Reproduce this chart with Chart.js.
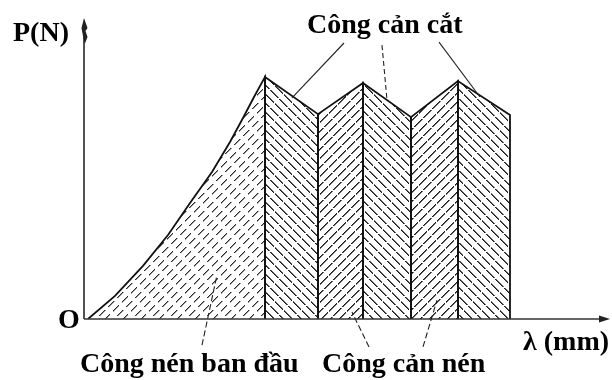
<!DOCTYPE html>
<html><head><meta charset="utf-8">
<script src="https://cdn.jsdelivr.net/npm/chart.js@4"></script>
<style>html,body{margin:0;padding:0;background:#fff}canvas{display:block}</style>
</head><body>
<canvas id="c" width="612" height="380"></canvas>
<script>
// Initial compression: load climbs from the origin to the first peak
const rampX = [0.8, 6.2, 11.8, 16.8, 21.2, 25.6, 29.2, 31.8, 34, 36.2];
const rampY = [0, 7.7, 17.7, 28, 38.7, 49, 59, 67, 74, 80.7];
// Cutting resistance: alternating peaks and troughs after the first peak
const ridgeX = [36.2, 46.8, 55.8, 65.4, 74.8, 85.2];
const ridgeY = [80.7, 68.3, 78.7, 67.3, 79.3, 68];

const canvas = document.getElementById('c');
const ctx = canvas.getContext('2d');

// Diagonal hatch tile: dir > 0 gives "/" strokes, dir < 0 gives "\" strokes
function hatch(dir, dashOn, shade, soft) {
  const s = 18;
  const cv = document.createElement('canvas');
  cv.width = cv.height = s;
  const g = cv.getContext('2d');
  const img = g.createImageData(s, s);
  for (let y = 0; y < s; y++) {
    for (let x = 0; x < s; x++) {
      const across = dir > 0 ? (x + y) : (x - y + 72);
      const along = dir > 0 ? (x - y + 72) : (x + y);
      const a = across % 9, d = along % 18;
      let alpha = 0;
      if (d < dashOn) { if (a === 0) alpha = 255; else if (a === 1) alpha = soft; }
      const k = (y * s + x) * 4;
      img.data[k] = shade; img.data[k + 1] = shade; img.data[k + 2] = shade; img.data[k + 3] = alpha;
    }
  }
  g.putImageData(img, 0, 0);
  return ctx.createPattern(cv, 'repeat');
}

const pts = (xs, ys) => xs.map((x, i) => ({ x, y: ys[i] }));

const datasets = [{
  data: pts(rampX, rampY).concat([{ x: rampX[rampX.length - 1], y: 0 }]),
  backgroundColor: hatch(1, 12, 40, 120)
}];
for (let i = 0; i < ridgeX.length - 1; i++) {
  datasets.push({
    data: [
      { x: ridgeX[i], y: 0 }, { x: ridgeX[i], y: ridgeY[i] },
      { x: ridgeX[i + 1], y: ridgeY[i + 1] }, { x: ridgeX[i + 1], y: 0 }
    ],
    backgroundColor: hatch(i % 2 === 0 ? -1 : 1, 16, 25, 170)
  });
}
datasets.forEach(d => Object.assign(d, {
  fill: 'origin', borderColor: '#111', borderWidth: 1.8, pointRadius: 0, tension: 0
}));

const FONT = 'bold 28px "Liberation Serif", "Times New Roman", serif';

// Axes with arrows, labels and leader lines
const annotate = {
  id: 'annotate',
  afterDraw(chart, args, opts) {
    const c = chart.ctx, xs = chart.scales.x, ys = chart.scales.y;
    const px = v => xs.getPixelForValue(v), py = v => ys.getPixelForValue(v);
    const ox = px(0), oy = py(0);
    c.save();
    // axes
    c.strokeStyle = '#333'; c.fillStyle = '#222'; c.lineWidth = 1.7;
    c.beginPath(); c.moveTo(ox, oy); c.lineTo(ox, 30); c.stroke();
    c.beginPath(); c.moveTo(ox, oy); c.lineTo(600, oy); c.stroke();
    c.beginPath(); c.moveTo(610, oy); c.lineTo(599, oy - 3.5); c.lineTo(599, oy + 3.5); c.closePath(); c.fill();
    c.beginPath();
    c.moveTo(ox, 18); c.lineTo(ox + 3.5, 28); c.lineTo(ox + 1.5, 31); c.lineTo(ox + 3.5, 37);
    c.lineTo(ox + 0.8, 44); c.lineTo(ox - 1, 36); c.lineTo(ox - 2.5, 28); c.closePath(); c.fill();
    // leader lines
    c.strokeStyle = '#222'; c.lineWidth = 1.1;
    opts.leaders.forEach(l => {
      c.setLineDash(l.dash || []);
      c.beginPath(); c.moveTo(px(l.from[0]), py(l.from[1])); c.lineTo(px(l.to[0]), py(l.to[1])); c.stroke();
    });
    c.setLineDash([]);
    // labels
    c.fillStyle = '#000'; c.font = FONT; c.textBaseline = 'alphabetic'; c.textAlign = 'left';
    opts.labels.forEach(t => c.fillText(t.text, t.x, t.y));
    c.restore();
  }
};

new Chart(canvas, {
  type: 'line',
  data: { datasets },
  options: {
    responsive: false, animation: false, events: [],
    layout: { padding: { left: 84, right: 8, top: 19, bottom: 61 } },
    scales: {
      x: { type: 'linear', min: 0, max: 104, display: false },
      y: { type: 'linear', min: 0, max: 100, display: false }
    },
    plugins: {
      legend: { display: false }, tooltip: { enabled: false },
      annotate: {
        leaders: [
          { from: [52, 92], to: [41.6, 73.7] },
          { from: [59.6, 91.3], to: [60.6, 73], dash: [5, 3] },
          { from: [71, 92.3], to: [79.2, 74] },
          { from: [23.6, -8.7], to: [26.6, 14.7], dash: [6, 3] },
          { from: [57, -9.3], to: [53.6, 2.3], dash: [6, 3] },
          { from: [67.8, -9.3], to: [70.6, 6.3], dash: [6, 3] }
        ],
        labels: [
          { text: 'P(N)', x: 13, y: 41 },
          { text: 'Công cản cắt', x: 307, y: 33 },
          { text: 'O', x: 58, y: 328 },
          { text: 'λ (mm)', x: 523, y: 350 },
          { text: 'Công nén ban đầu', x: 80, y: 372 },
          { text: 'Công cản nén', x: 322, y: 372 }
        ]
      }
    }
  },
  plugins: [annotate]
});
</script>
</body></html>
